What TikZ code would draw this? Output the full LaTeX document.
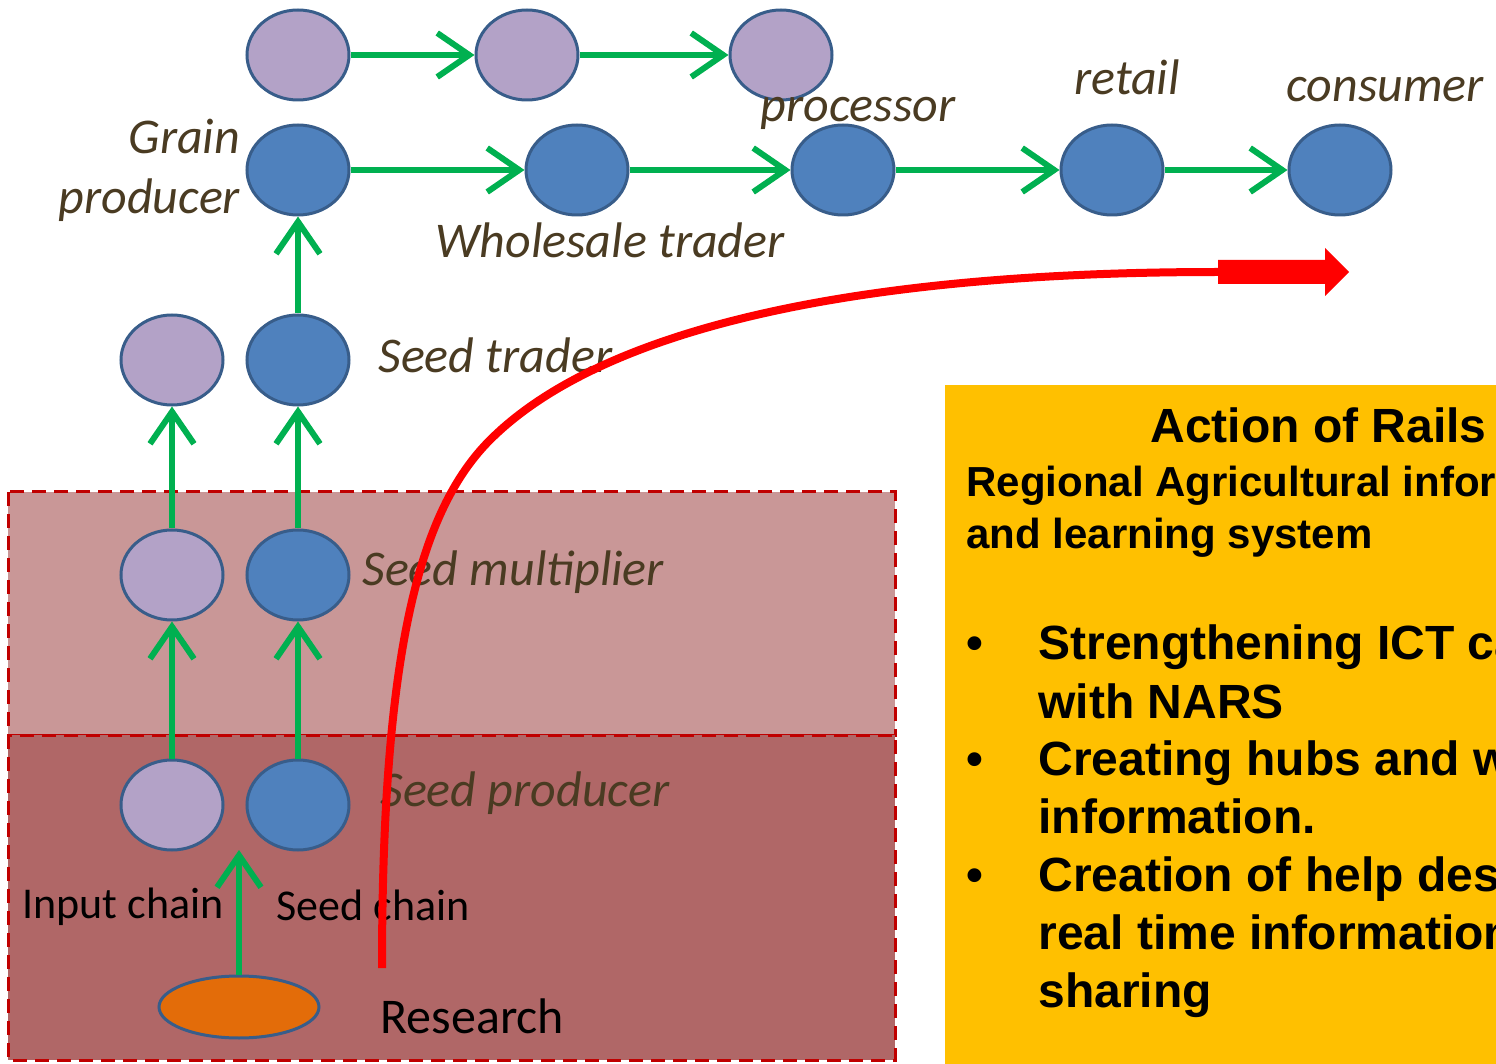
\documentclass[tikz,border=0pt]{standalone}
\usepackage{fontspec}
\setmainfont{Carlito}
\newfontfamily\arialfont{Liberation Sans}
\usetikzlibrary{positioning, shapes.geometric, arrows.meta}

\definecolor{purplenode}{HTML}{B3A2C7}
\definecolor{bluenode}{HTML}{4F81BD}
\definecolor{nodeline}{HTML}{385D8A}
\definecolor{flowgreen}{HTML}{00B050}
\definecolor{labelbrown}{HTML}{4A3B22}
\definecolor{upperzone}{HTML}{C99797}
\definecolor{lowerzone}{HTML}{B06767}
\definecolor{zoneline}{HTML}{C00000}
\definecolor{railsyellow}{HTML}{FFC000}
\definecolor{researchorange}{HTML}{E36C09}

\tikzset{
  actor/.style={ellipse, draw=nodeline, line width=1.5pt, minimum width=51pt, minimum height=45pt, inner sep=0pt},
  input/.style={actor, fill=purplenode},
  seed/.style={actor, fill=bluenode},
  flow/.style={draw=flowgreen, line width=3pt, -{Straight Barb[length=16pt, width=22pt]}},
  role/.style={font=\fontsize{25}{30}\selectfont\itshape, text=labelbrown, inner sep=0pt},
  chain/.style={font=\fontsize{22}{26}\selectfont, inner sep=0pt},
  zone/.style={draw=zoneline, line width=1.5pt, dash pattern=on 7pt off 4pt},
  railstext/.style={anchor=base west, inner sep=0pt},
}

\begin{document}
\begin{tikzpicture}[x=0.5pt, y=-0.5pt]
  \path[use as bounding box] (0,0) rectangle (1496,1064);
  \clip (0,0) rectangle (1496,1064);

  % zones
  \draw[zone, fill=upperzone] (8,492) rectangle (895,735);
  \draw[zone, fill=lowerzone] (8,735) rectangle (895,1060);
  \fill[railsyellow] (945,385) rectangle (1500,1070);

  % grain chain
  \node[input] (gi1) at (298,55) {};
  \node[input] (gi2) at (527,55) {};
  \node[input] (gi3) at (781,55) {};
  \node[seed] (grain) at (298,170) {};
  \node[seed] (whole) at (577,170) {};
  \node[seed] (proc) at (843,170) {};
  \node[seed] (retail) at (1112,170) {};
  \node[seed] (cons) at (1340,170) {};

  % seed chain
  \node[input] (ti) at (172,360) {};
  \node[seed] (trader) at (298,360) {};
  \node[input] (mi) at (172,575) {};
  \node[seed] (mult) at (298,575) {};
  \node[input] (pi) at (172,805) {};
  \node[seed] (prod) at (298,805) {};
  \node[ellipse, draw=nodeline, line width=1.5pt, fill=researchorange, minimum width=80pt, minimum height=31pt] (res) at (239,1007) {};
  \coordinate (restip) at (239,850);

  % labels
  \node[role, align=right, left=2.5pt of grain] (grainl) {Grain\\producer};
  \node[role] (procl) at (858,113) {processor};
  \node[role] (retaill) at (1127,77) {retail};
  \node[role] (consl) at (1385,90) {consumer};
  \node[role] (wholel) at (610,240) {Wholesale trader};
  \node[role, anchor=west] (traderl) at (378,355) {Seed trader};
  \node[role, anchor=west] (multl) at (362,572) {Seed multiplier};
  \node[role, anchor=west] (prodl) at (380,793) {Seed producer};
  \node[chain, anchor=west] (inputl) at (22,907) {Input chain};
  \node[chain, anchor=west] (seedl) at (276,905) {Seed chain};
  \node[chain, font=\fontsize{25}{30}\selectfont, anchor=west] (resl) at (380,1016) {Research};

  \draw[flow] (gi1) -- (gi2);
  \draw[flow] (gi2) -- (gi3);
  \draw[flow] (grain) -- (whole);
  \draw[flow] (whole) -- (proc);
  \draw[flow] (proc) -- (retail);
  \draw[flow] (retail) -- (cons);
  \draw[flow] (trader) -- (grain);
  \draw[flow] (mi) -- (ti);
  \draw[flow] (mult) -- (trader);
  \draw[flow] (pi) -- (mi);
  \draw[flow] (prod) -- (mult);
  \draw[flow] (res) -- (restip);

  % information flow
  \coordinate (redstart) at (382,968);
  \coordinate (redend) at (1218,272);
  \draw[red, line width=4pt] (redstart) .. controls (382,650) and (420,510) .. (490,440)
    .. controls (600,330) and (850,272) .. (redend);
  \fill[red] (redend) ++(0,-12) -- ++(107,0) -- ++(0,-12) -- ++(24,24) -- ++(-24,24)
    -- ++(0,-12) -- ++(-107,0) -- cycle;

  % Rails box
  \node[railstext, font=\arialfont\bfseries\fontsize{24}{29}\selectfont] (rails) at (1150,443) {Action of Rails};
  \node[railstext, font=\arialfont\bfseries\fontsize{21}{26.5}\selectfont] (railssub) at (966,496)
    {\begin{tabular}[t]{@{}l@{}}Regional Agricultural infor\\and learning system\end{tabular}};
  \node[railstext, font=\arialfont\bfseries\fontsize{24}{29}\selectfont] (railslist) at (966,660)
    {\begin{tabular}[t]{@{}p{36pt}@{}l@{}}
      \textbullet & Strengthening ICT ca\\
                  & with NARS\\
      \textbullet & Creating hubs and w\\
                  & information.\\
      \textbullet & Creation of help des\\
                  & real time information\\
                  & sharing
    \end{tabular}};
\end{tikzpicture}
\end{document}
